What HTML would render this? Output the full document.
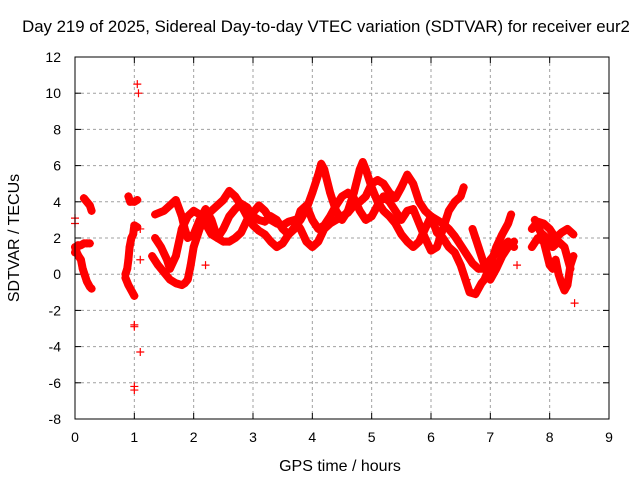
<!DOCTYPE html>
<html><head><meta charset="utf-8"><style>
body{margin:0;background:#fff}
svg{display:block;font-family:"Liberation Sans",sans-serif}
</style></head><body>
<svg id="chart" width="640" height="480" viewBox="0 0 640 480" xmlns="http://www.w3.org/2000/svg">
<rect width="640" height="480" fill="#fff"/>
<text x="326" y="32" font-size="16.8" text-anchor="middle" fill="#000">Day 219 of 2025, Sidereal Day-to-day VTEC variation (SDTVAR) for receiver eur2</text>
<text x="0" y="0" font-size="16" text-anchor="middle" transform="translate(19,238) rotate(-90)">SDTVAR / TECUs</text>
<text x="340" y="471" font-size="16" text-anchor="middle">GPS time / hours</text>
<g id="grid"></g><g id="ticks"></g><g id="marks"></g>
<rect x="75" y="57" width="534" height="362" fill="none" stroke="#000" stroke-width="1"/>
</svg>
<script>
const xTicks=[0,1,2,3,4,5,6,7,8,9];
const yTicks=[-8,-6,-4,-2,0,2,4,6,8,10,12];
const seriesA=[[0,1.5],[0.03,1.2],[0.06,1.0],[0.1,0.8],[0.13,0.3],[0.17,-0.1],[0.2,-0.4],[0.25,-0.7],[0.28,-0.8]];
const seriesB=[[0,1.2],[0.05,1.6],[0.1,1.6],[0.15,1.7],[0.2,1.7],[0.25,1.7]];
const seriesC=[[0.15,4.2],[0.2,4.0],[0.25,3.8],[0.28,3.5]];
const seriesD=[[0.85,0],[0.88,0.3],[0.9,0.8],[0.92,1.5],[0.95,2.0],[0.98,2.2],[1.0,2.7],[1.05,2.6]];
const seriesE=[[0.9,4.3],[0.93,4.0],[1.0,4.0],[1.05,4.1]];
const seriesF=[[0.85,-0.2],[0.9,-0.6],[0.95,-0.9],[1.0,-1.2]];
const seriesG=[[1.3,1.0],[1.4,0.5],[1.5,0.1],[1.6,-0.3],[1.7,-0.5],[1.8,-0.6],[1.85,-0.5],[1.9,-0.3],[1.95,0.5],[2.0,1.5],[2.1,2.5],[2.2,3.2],[2.3,3.5],[2.4,3.8],[2.5,4.1],[2.6,4.6],[2.7,4.3],[2.8,3.8],[2.9,3.2],[3.0,2.7],[3.1,2.4],[3.2,2.2],[3.3,1.8],[3.4,1.5],[3.5,1.7],[3.6,2.2],[3.7,2.6],[3.8,3.0],[3.9,3.6],[4.0,4.5],[4.1,5.5],[4.15,6.1],[4.2,5.8],[4.3,4.5],[4.4,3.5],[4.5,3.0],[4.6,3.5],[4.7,4.5],[4.8,5.8],[4.85,6.2],[4.9,5.8],[5.0,4.8],[5.1,4.0],[5.2,3.5],[5.3,3.2],[5.4,2.8],[5.5,2.2],[5.6,1.8],[5.7,1.5],[5.8,1.8],[5.9,2.5],[6.0,3.2]];
const seriesH=[[1.35,3.3],[1.5,3.5],[1.6,3.8],[1.7,4.1],[1.8,3.2],[1.85,2.5],[1.9,2.0],[2.0,2.2],[2.1,3.0],[2.2,3.6],[2.3,3.0],[2.4,2.0],[2.5,1.8],[2.6,1.8],[2.7,2.0],[2.8,2.3],[2.9,3.0],[3.0,3.4],[3.1,3.8],[3.2,3.5],[3.3,3.0],[3.4,2.8],[3.5,2.7],[3.6,2.9],[3.7,3.0],[3.8,2.5],[3.9,1.8],[4.0,1.5],[4.1,1.8],[4.2,2.5],[4.3,2.8],[4.4,3.0],[4.5,3.2],[4.6,3.4],[4.7,3.8],[4.8,4.0],[4.9,4.3],[5.0,5.0],[5.1,5.2],[5.2,5.0],[5.3,4.5],[5.4,4.2],[5.5,4.8],[5.6,5.5],[5.7,5.0],[5.8,4.0],[5.9,3.5],[6.0,3.2],[6.1,3.0],[6.2,2.8],[6.3,2.5],[6.4,2.1],[6.5,1.6],[6.6,1.1],[6.7,0.6],[6.8,0.3],[6.9,0.3],[7.0,0.8],[7.1,1.2],[7.2,1.5],[7.3,1.8],[7.4,1.5]];
const seriesI=[[1.35,2.0],[1.45,1.5],[1.55,0.8],[1.6,0.3],[1.7,1.0],[1.8,2.5],[1.9,3.2],[2.0,3.5],[2.1,3.3],[2.2,2.8],[2.3,2.2],[2.4,2.0],[2.5,2.5],[2.6,3.2],[2.7,3.6],[2.8,3.9],[2.9,3.7],[3.0,3.2],[3.1,3.0],[3.2,2.9],[3.3,3.2],[3.4,3.0],[3.5,2.5],[3.6,2.2],[3.7,2.5],[3.8,3.5],[3.9,3.8],[4.0,3.0],[4.1,2.5],[4.2,2.7],[4.3,3.2],[4.4,3.8],[4.5,4.3],[4.6,4.5],[4.7,4.2],[4.8,3.5],[4.9,3.0],[5.0,3.2],[5.1,3.8],[5.2,4.3],[5.3,4.0],[5.4,3.5],[5.5,3.0],[5.6,3.5],[5.7,3.6],[5.8,2.8],[5.9,2.0],[6.0,1.3],[6.1,1.5],[6.2,2.5],[6.3,3.5],[6.4,4.0],[6.5,4.3],[6.55,4.8]];
const seriesJ=[[6.0,3.2],[6.1,2.3],[6.2,2.0],[6.3,1.5],[6.4,1.2],[6.5,0.5],[6.6,-0.5],[6.65,-1.0],[6.75,-1.1],[6.85,-0.5],[6.9,-0.3],[7.0,0.5],[7.1,1.5],[7.2,2.2],[7.3,2.8],[7.35,3.3]];
const seriesK=[[6.7,2.5],[6.8,1.5],[6.9,0.5],[7.0,-0.3],[7.1,0.3],[7.2,1.0],[7.3,1.5],[7.4,1.8]];
const seriesL=[[7.7,2.5],[7.8,2.9],[7.9,2.8],[8.0,2.5],[8.1,2.0],[8.2,2.3],[8.3,2.5],[8.4,2.2]];
const seriesM=[[7.7,1.5],[7.8,2.0],[7.9,1.8],[8.0,0.5],[8.05,0.3],[8.1,0.8],[8.15,0],[8.2,-0.5],[8.25,-0.9],[8.3,-0.6],[8.35,0.5],[8.4,1.0]];
const seriesN=[[7.75,3.0],[7.85,2.3],[7.95,2.0],[8.05,1.5],[8.15,1.8],[8.25,1.5],[8.35,0.3]];
const outliers=[[0,3.1],[0,2.8],[1.05,10.5],[1.07,10.0],[1.1,-4.3],[1.0,-6.2],[1.0,-6.4],[1.0,-2.8],[1.0,-2.9],[1.1,0.8],[1.1,2.5],[2.2,0.5],[7.45,0.5],[8.42,-1.6],[6.6,-0.3]];

const NS='http://www.w3.org/2000/svg';
const X0=75,X1=609,Y0=419,Y1=57;
function xs(h){return X0+(h-0)/(9-0)*(X1-X0);}
function ys(v){return Y0-(v+8)/(12+8)*(Y0-Y1);}
function mk(tag,attrs,parent){const e=document.createElementNS(NS,tag);for(const k in attrs)e.setAttribute(k,attrs[k]);parent.appendChild(e);return e;}
const grid=document.getElementById('grid'),ticks=document.getElementById('ticks'),marks=document.getElementById('marks');
xTicks.forEach(t=>{
  const x=xs(t);
  if(t>0&&t<9){const g=mk('line',{x1:x,x2:x,y1:Y1,y2:Y0,stroke:'#a0a0a0','stroke-dasharray':'3,3'},grid);
  
  }
  mk('line',{x1:x,x2:x,y1:Y0,y2:Y0-6,stroke:'#000'},ticks);
  mk('line',{x1:x,x2:x,y1:Y1,y2:Y1+6,stroke:'#000'},ticks);
  const l=mk('text',{x:x,y:Y0+23,'font-size':14,'text-anchor':'middle'},ticks);l.textContent=t;
  
  
});
yTicks.forEach(t=>{
  const y=ys(t);
  if(t>-8&&t<12){const g=mk('line',{x1:X0,x2:X1,y1:y,y2:y,stroke:'#a0a0a0','stroke-dasharray':'3,3'},grid);
  
  }
  mk('line',{x1:X0,x2:X0+6,y1:y,y2:y,stroke:'#000'},ticks);
  mk('line',{x1:X1,x2:X1-6,y1:y,y2:y,stroke:'#000'},ticks);
  const l=mk('text',{x:X0-14,y:y+5,'font-size':14,'text-anchor':'end'},ticks);l.textContent=t;
  
  
});
const traces=[seriesA,seriesB,seriesC,seriesD,seriesE,seriesF,seriesG,seriesH,seriesI,seriesJ,seriesK,seriesL,seriesM,seriesN];
traces.forEach(s=>{
  const pl=mk('polyline',{points:s.map(p=>xs(p[0])+','+ys(p[1])).join(' '),fill:'none',stroke:'#ff0000','stroke-width':8,'stroke-linejoin':'round','stroke-linecap':'round'},marks);
  
  
});
traces.concat([outliers]).forEach(s=>{
  s.forEach(p=>{
    const x=xs(p[0]),y=ys(p[1]);
    const m=mk('path',{d:`M${x-4},${y}H${x+4}M${x},${y-4}V${y+4}`,stroke:'#ff0000','stroke-width':1.2},marks);
    
    
  });
});
</script>
</body></html>
